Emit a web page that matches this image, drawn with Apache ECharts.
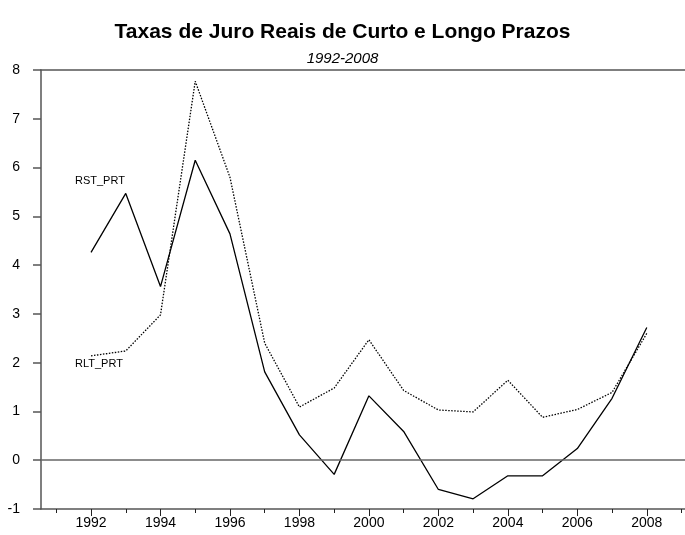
<!DOCTYPE html>
<html>
<head>
<meta charset="utf-8">
<title>Taxas de Juro Reais</title>
<script src="https://cdn.jsdelivr.net/npm/echarts@6/dist/echarts.min.js"></script>
<style>
  html, body { margin: 0; padding: 0; background: #fff; }
  #chart { width: 685px; height: 535px; }
</style>
</head>
<body>
<div id="chart"></div>
<script>
const years = [1992, 1993, 1994, 1995, 1996, 1997, 1998, 1999, 2000, 2001, 2002, 2003, 2004, 2005, 2006, 2007, 2008];
const rstPrt = [4.26, 5.47, 3.56, 6.15, 4.64, 1.81, 0.52, -0.29, 1.32, 0.59, -0.6, -0.79, -0.32, -0.32, 0.24, 1.27, 2.72];
const rltPrt = [2.14, 2.24, 2.98, 7.77, 5.8, 2.4, 1.09, 1.48, 2.47, 1.43, 1.03, 0.99, 1.64, 0.88, 1.04, 1.39, 2.6];
const majorTicks = [1992, 1994, 1996, 1998, 2000, 2002, 2004, 2006, 2008];
const minorTicks = [1991, 1993, 1995, 1997, 1999, 2001, 2003, 2005, 2007, 2009];

const font = "'Liberation Sans', Arial, sans-serif";
const axisColor = "#555";

const chart = echarts.init(document.getElementById("chart"));

const option = {
  animation: false,
  title: {
    text: "Taxas de Juro Reais de Curto e Longo Prazos",
    subtext: "1992-2008",
    left: "center",
    top: 17,
    itemGap: 8,
    textStyle: { fontFamily: font, fontSize: 21, fontWeight: "bold", color: "#000" },
    subtextStyle: { fontFamily: font, fontSize: 15, fontStyle: "italic", color: "#000" },
  },
  grid: { left: 41, right: 0, top: 70, bottom: 26 },
  xAxis: [
    {
      type: "value",
      min: 1990.56,
      max: 2009.1,
      position: "bottom",
      splitLine: { show: false },
      axisLine: { onZero: false, lineStyle: { color: axisColor, width: 1.5 } },
      axisTick: { customValues: majorTicks, length: 7, lineStyle: { color: "#222" } },
      axisLabel: {
        customValues: majorTicks,
        margin: 7,
        fontFamily: font,
        fontSize: 14,
        color: "#000",
        formatter: (v) => String(v),
      },
    },
    {
      // ticks menores, anos impares
      type: "value",
      min: 1990.56,
      max: 2009.1,
      position: "bottom",
      splitLine: { show: false },
      axisLine: { show: false, onZero: false },
      axisTick: { customValues: minorTicks, length: 4, lineStyle: { color: "#222" } },
      axisLabel: { show: false },
    },
    {
      // linha do topo
      type: "value",
      min: 1990.56,
      max: 2009.1,
      position: "top",
      splitLine: { show: false },
      axisLine: { onZero: false, lineStyle: { color: axisColor, width: 1.5 } },
      axisTick: { show: false },
      axisLabel: { show: false },
    },
  ],
  yAxis: {
    type: "value",
    min: -1,
    max: 8,
    interval: 1,
    splitLine: { show: false },
    axisLine: { show: true, onZero: false, lineStyle: { color: axisColor, width: 1.5 } },
    axisTick: { show: true, length: 8, lineStyle: { color: axisColor, width: 1.5 } },
    axisLabel: { margin: 21, fontFamily: font, fontSize: 14, color: "#000" },
  },
  graphic: [
    {
      type: "text",
      left: 75,
      top: 175,
      style: { text: "RST_PRT", font: "11px " + font, fill: "#000" },
    },
    {
      type: "text",
      left: 75,
      top: 358,
      style: { text: "RLT_PRT", font: "11px " + font, fill: "#000" },
    },
  ],
  series: [
    {
      name: "RST_PRT",
      type: "line",
      data: years.map((y, i) => [y, rstPrt[i]]),
      showSymbol: false,
      lineStyle: { color: "#000", width: 1.3 },
      markLine: {
        silent: true,
        symbol: "none",
        label: { show: false },
        lineStyle: { color: "#666", width: 1.5, type: "solid" },
        data: [{ yAxis: 0 }],
      },
    },
    {
      name: "RLT_PRT",
      type: "line",
      data: years.map((y, i) => [y, rltPrt[i]]),
      showSymbol: false,
      lineStyle: { color: "#000", width: 1.3, type: [1.5, 1.5] },
    },
  ],
};

chart.setOption(option);
</script>
</body>
</html>
